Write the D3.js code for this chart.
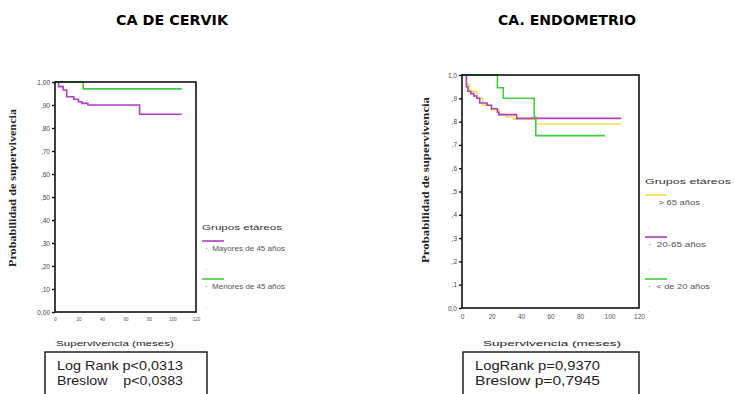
<!DOCTYPE html>
<html>
<head>
<meta charset="utf-8">
<script src="https://cdn.jsdelivr.net/npm/d3@7"></script>
<style>
  body { margin: 0; background: #fff; }
  svg { font-family: "Liberation Sans", Arial, sans-serif; }
</style>
</head>
<body>
<div id="chart"></div>
<script>
// ---- data ----
var xTicks = [0, 20, 40, 60, 80, 100, 120];

// CA de cervix
var cervixTitle = "CA DE CERVIK";
var cervixYTicks = [0, .1, .2, .3, .4, .5, .6, .7, .8, .9, 1];
var cervixYLabels = ["0,00", ",10", ",20", ",30", ",40", ",50", ",60", ",70", ",80", ",90", "1,00"];
var cervixGroups = ["Mayores de 45 años", "Menores de 45 años"];
var cervixMayoresT = [0, 3, 4, 7, 10, 16, 20, 23, 28, 72, 108];
var cervixMayoresS = [1, .98, .98, .965, .936, .925, .914, .907, .90, .86, .86];
var cervixMenoresT = [0, 24, 108];
var cervixMenoresS = [1, .97, .97];
var cervixTests = ["Log Rank p<0,0313", "Breslow    p<0,0383"];

// CA endometrio
var endoTitle = "CA. ENDOMETRIO";
var endoYTicks = [0, .1, .2, .3, .4, .5, .6, .7, .8, .9, 1];
var endoYLabels = ["0,0", ",1", ",2", ",3", ",4", ",5", ",6", ",7", ",8", ",9", "1,0"];
var endoGroups = ["> 65 años", "20-65 años", "< de 20 años"];
var endoMayor65T = [0, 3, 5, 10, 14, 20, 25, 30, 35, 50, 108];
var endoMayor65S = [1, .96, .93, .90, .87, .85, .83, .82, .81, .79, .79];
var endo2065T = [0, 3, 4, 6, 8, 10, 12, 17, 20, 24, 25, 37, 108];
var endo2065S = [1, .95, .93, .92, .91, .90, .88, .87, .855, .84, .83, .814, .814];
var endoMenor20T = [0, 24, 28, 49, 50, 97];
var endoMenor20S = [1, .945, .90, .82, .74, .74];
var endoTests = ["LogRank p=0,9370", "Breslow p=0,7945"];

var magenta = "#b23cc4", green = "#3fcf3f", yellow = "#f1e344";

var W = 735, H = 394;
var svg = d3.select("#chart").append("svg")
    .attr("width", W).attr("height", H);

function zip(t, s) { return t.map(function(d, i) { return {t: d, s: s[i]}; }); }

function drawPanel(o) {
    var x = d3.scaleLinear().domain([0, 120]).range([o.left, o.right]);
    var y = d3.scaleLinear().domain([0, 1]).range([o.bottom, o.top]);

    // title
    svg.append("text")
        .attr("x", o.titleX).attr("y", 25)
        .attr("text-anchor", "middle")
        .attr("font-family", "DejaVu Sans, sans-serif")
        .attr("font-size", 14).attr("font-weight", "bold")
        .attr("textLength", o.titleW).attr("lengthAdjust", "spacingAndGlyphs")
        .text(o.title);

    // curves
    var line = d3.line()
        .x(function(d) { return x(d.t); })
        .y(function(d) { return y(d.s); })
        .curve(d3.curveStepAfter);
    o.series.forEach(function(s) {
        svg.append("path")
            .attr("d", line(zip(s.t, s.s)))
            .attr("fill", "none")
            .attr("stroke", s.color)
            .attr("stroke-width", 1.6);
    });

    // frame
    svg.append("rect")
        .attr("x", o.left).attr("y", o.top)
        .attr("width", o.right - o.left).attr("height", o.bottom - o.top)
        .attr("fill", "none").attr("stroke", "#111").attr("stroke-width", 1.6);

    // y axis
    var ya = svg.append("g")
        .attr("transform", "translate(" + o.left + ",0)")
        .call(d3.axisLeft(y).tickValues(o.yTicks).tickSize(3).tickPadding(2)
            .tickFormat(function(d, i) { return o.yLabels[i]; }));
    ya.select(".domain").remove();
    ya.selectAll("line").attr("stroke", "#111").attr("stroke-width", 1.4);
    ya.selectAll("text").attr("font-size", 6.5).attr("fill", "#444")
        .attr("font-family", "Liberation Sans, Arial");

    // x axis
    var xa = svg.append("g")
        .attr("transform", "translate(0," + o.bottom + ")")
        .call(d3.axisBottom(x).tickValues(xTicks).tickSize(0).tickPadding(6));
    xa.select(".domain").remove();
    xa.selectAll("text").attr("font-size", o.xFont).attr("fill", "#555")
        .attr("font-family", "Liberation Sans, Arial");

    // axis titles
    svg.append("text")
        .attr("transform", "translate(" + o.yLabX + "," + o.yLabY + ") rotate(-90)")
        .attr("text-anchor", "middle")
        .attr("font-family", "Liberation Serif, serif")
        .attr("font-size", 9.5).attr("font-weight", "bold").attr("fill", "#222")
        .attr("textLength", o.yLabW).attr("lengthAdjust", "spacingAndGlyphs")
        .text("Probabilidad de supervivencia");
    svg.append("text")
        .attr("x", o.xLabX).attr("y", 346)
        .attr("text-anchor", "middle")
        .attr("font-size", 8).attr("fill", "#222")
        .attr("textLength", o.xLabW).attr("lengthAdjust", "spacingAndGlyphs")
        .text("Supervivencia (meses)");

    // test box
    svg.append("rect")
        .attr("x", o.boxX).attr("y", 352)
        .attr("width", o.boxW).attr("height", 44)
        .attr("fill", "#fff").attr("stroke", "#111").attr("stroke-width", 1.4);
    o.tests.forEach(function(t, i) {
        svg.append("text")
            .attr("x", o.boxX + 12).attr("y", 370 + i * 15)
            .attr("font-size", 13).attr("fill", "#222")
            .attr("textLength", o.testW).attr("lengthAdjust", "spacingAndGlyphs")
            .style("white-space", "pre")
            .text(t);
    });

    // legend
    var lg = svg.append("g");
    lg.append("text")
        .attr("x", o.legX).attr("y", o.legY)
        .attr("font-size", 7.5).attr("fill", "#333")
        .attr("textLength", o.legTitleW).attr("lengthAdjust", "spacingAndGlyphs")
        .text("Grupos etáreos");
    o.series.forEach(function(s, i) {
        var yy = o.legY + 11 + i * o.legStep;
        lg.append("line")
            .attr("x1", o.legX).attr("x2", o.legX + 22)
            .attr("y1", yy).attr("y2", yy)
            .attr("stroke", s.color).attr("stroke-width", 1.6);
        lg.append("text")
            .attr("x", o.legX + 3).attr("y", yy + 10)
            .attr("font-size", 7).attr("fill", "#555")
            .attr("textLength", s.legW).attr("lengthAdjust", "spacingAndGlyphs")
            .style("white-space", "pre")
            .text(s.legPrefix + s.name);
        lg.append("text")
            .attr("x", o.legX + 3).attr("y", yy + o.legStep - 9)
            .attr("font-size", 7).attr("fill", "#999")
            .text(".");
    });
}

drawPanel({
    title: cervixTitle, titleX: 172, titleW: 112,
    left: 55, right: 196, top: 82, bottom: 312,
    yTicks: cervixYTicks, yLabels: cervixYLabels, xFont: 4.5,
    yLabX: 16, yLabY: 188, yLabW: 158,
    xLabX: 115, xLabW: 118,
    boxX: 45, boxW: 162, testW: 126, tests: cervixTests,
    legX: 202, legY: 230, legStep: 38, legTitleW: 80,
    series: [
        {name: cervixGroups[0], t: cervixMayoresT, s: cervixMayoresS, color: magenta, legPrefix: "·  ", legW: 80},
        {name: cervixGroups[1], t: cervixMenoresT, s: cervixMenoresS, color: green, legPrefix: "·  ", legW: 80}
    ]
});

drawPanel({
    title: endoTitle, titleX: 567, titleW: 138,
    left: 462, right: 639, top: 75, bottom: 308,
    yTicks: endoYTicks, yLabels: endoYLabels, xFont: 6.5,
    yLabX: 429, yLabY: 180, yLabW: 166,
    xLabX: 552, xLabW: 138,
    boxX: 463, boxW: 176, testW: 125, tests: endoTests,
    legX: 645, legY: 184, legStep: 42, legTitleW: 86,
    series: [
        {name: endoGroups[0], t: endoMayor65T, s: endoMayor65S, color: yellow, legPrefix: "    ", legW: 52},
        {name: endoGroups[1], t: endo2065T, s: endo2065S, color: magenta, legPrefix: "·  ", legW: 58},
        {name: endoGroups[2], t: endoMenor20T, s: endoMenor20S, color: green, legPrefix: "·  ", legW: 62}
    ]
});
</script>
</body>
</html>
